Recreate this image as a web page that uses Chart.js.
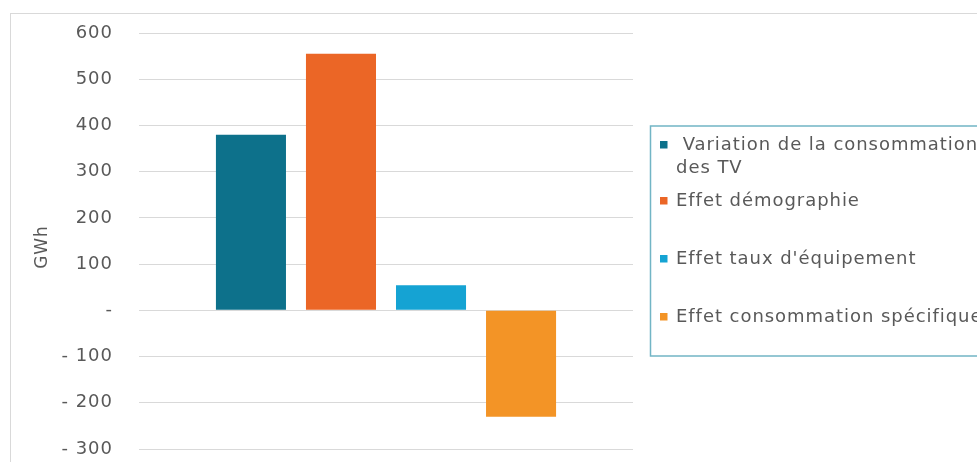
<!DOCTYPE html>
<html>
<head>
<meta charset="utf-8">
<script src="https://cdn.jsdelivr.net/npm/chart.js@4/dist/chart.umd.min.js"></script>
<style>
  html, body { margin: 0; padding: 0; background: #ffffff; }
  #wrap { width: 977px; height: 462px; position: relative; }
</style>
</head>
<body>
<div id="wrap"><canvas id="c" width="977" height="462"></canvas></div>
<script>
// ---- data ----
const categories = [''];
const seriesLabels = [
  ' Variation de la consommation des TV',
  'Effet démographie',
  "Effet taux d'équipement",
  'Effet consommation spécifique'
];
const seriesValues = [380, 555, 54, -230];
const seriesColors = ['#0D718B', '#EB6626', '#15A3D3', '#F39426'];
const tickValues = [600, 500, 400, 300, 200, 100, 0, -100, -200, -300];
const axisTitle = 'GWh';

const FONT = '"DejaVu Sans", Verdana, sans-serif';
const TEXT = '#595959';

const datasets = seriesLabels.map((l, i) => ({
  label: l,
  data: [seriesValues[i]],
  backgroundColor: seriesColors[i],
  borderWidth: 0,
  categoryPercentage: 0.729,
  barPercentage: 0.778
}));

function wrapText(ctx, text, maxW) {
  const lead = text.match(/^\s*/)[0];
  const words = text.trim().split(/\s+/);
  const lines = [];
  let cur = lead;
  words.forEach(w => {
    const t = (cur.trim() === '') ? cur + w : cur + ' ' + w;
    if (ctx.measureText(t).width > maxW && cur.trim() !== '') { lines.push(cur); cur = w; }
    else cur = t;
  });
  lines.push(cur);
  return lines;
}

const framePlugin = {
  id: 'frame',
  beforeDraw(chart) {
    const ctx = chart.ctx;
    ctx.save();
    ctx.strokeStyle = '#d9d9d9';
    ctx.lineWidth = 1;
    ctx.strokeRect(10.5, 13.5, 1000, 500);
    ctx.restore();
    ctx.letterSpacing = '1px';
  },
  afterDraw(chart) {
    const ctx = chart.ctx;
    ctx.save();
    ctx.letterSpacing = '0.95px';
    // legend box
    ctx.strokeStyle = '#72b5c5';
    ctx.lineWidth = 1.5;
    ctx.strokeRect(650.5, 126, 400, 230);
    const rowY = [145, 201, 259, 317];
    const lineH = 23;
    const maxW = 330;
    ctx.font = '18px ' + FONT;
    ctx.textBaseline = 'middle';
    ctx.textAlign = 'left';
    chart.data.datasets.forEach((ds, i) => {
      const y = rowY[i];
      ctx.fillStyle = ds.backgroundColor;
      ctx.fillRect(660, y - 4, 7.5, 7.5);
      ctx.fillStyle = TEXT;
      const lines = wrapText(ctx, ds.label, maxW);
      lines.forEach((ln, k) => {
        ctx.fillText(ln, 676, y + k * lineH);
      });
    });
    // axis title
    ctx.save();
    ctx.translate(43, 247);
    ctx.rotate(-Math.PI / 2);
    ctx.textAlign = 'center';
    ctx.font = '17px ' + FONT;
    ctx.fillStyle = TEXT;
    ctx.fillText(axisTitle, 0, 0);
    ctx.restore();
    ctx.restore();
  }
};

new Chart(document.getElementById('c'), {
  type: 'bar',
  data: { labels: categories, datasets },
  options: {
    responsive: false,
    animation: false,
    devicePixelRatio: 1,
    layout: { padding: { left: 0, right: 344, top: 33, bottom: 13 } },
    plugins: { legend: { display: false }, tooltip: { enabled: false }, title: { display: false } },
    scales: {
      x: { display: false },
      y: {
        min: -300, max: 600,
        afterFit(scale) { scale.width = 139; scale.paddingTop = 0; scale.paddingBottom = 0; },
        afterBuildTicks(scale) { scale.ticks = tickValues.map(v => ({ value: v })); },
        border: { display: false },
        grid: { color: '#d9d9d9', lineWidth: 1, drawTicks: false },
        ticks: {
          padding: 26,
          color: TEXT,
          font: { family: FONT, size: 18 },
          callback: v => v === 0 ? '-' : (v < 0 ? '- ' + Math.abs(v) : String(v))
        }
      }
    }
  },
  plugins: [framePlugin]
});
</script>
</body>
</html>
